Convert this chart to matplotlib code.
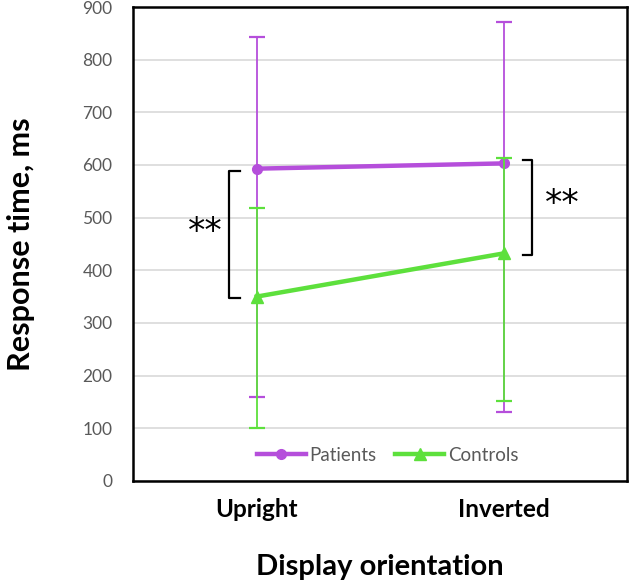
import numpy as np
import matplotlib.pyplot as plt
from matplotlib.lines import Line2D

plt.rcParams['font.family'] = ['Lato', 'DejaVu Sans']

## Data
categories = ['Upright', 'Inverted']
patients = [593, 603]
patients_hi = [843, 871]
patients_lo = [160, 130]
controls = [350, 432]
controls_hi = [519, 613]
controls_lo = [100, 152]

## significance brackets: (x, tick end, y bottom, y top), star position
brackets = [(-0.111, -0.067, 347, 589), (1.115, 1.079, 429, 609)]
star_pos = [(-0.21, 473), (1.24, 526)]

purple = '#B54EDB'
green = '#5DE03C'

fig = plt.figure(figsize=(6.32, 5.85), dpi=100)
ax = fig.add_axes([0.211, 0.178, 0.781, 0.81])

x = np.arange(len(categories))

def yerr(mean, lo, hi):
    mean = np.array(mean)
    return [mean - np.array(lo), np.array(hi) - mean]

ax.errorbar(x, patients, yerr=yerr(patients, patients_lo, patients_hi), color=purple,
            lw=3.2, marker='o', ms=7, elinewidth=1.3, capsize=6, capthick=1.6, zorder=3)
ax.errorbar(x, controls, yerr=yerr(controls, controls_lo, controls_hi), color=green,
            lw=3.2, marker='^', ms=8, elinewidth=1.3, capsize=6, capthick=1.6, zorder=4)

for bx, tx, y0, y1 in brackets:
    ax.plot([tx, bx, bx, tx], [y0, y0, y1, y1], color='black', lw=1.6, zorder=5)
for sx, sy in star_pos:
    ax.text(sx, sy, '**', ha='center', va='center', fontsize=25, family='DejaVu Sans')

ax.set_xlim(-0.5, 1.5)
ax.set_ylim(0, 900)
ax.set_yticks(np.arange(0, 901, 100))
ax.set_xticks(x)
ax.set_xticklabels(categories, fontsize=17.5, fontweight='bold')
ax.tick_params(axis='y', labelsize=12.5, labelcolor='#595959', length=0, pad=15)
ax.tick_params(axis='x', length=0, pad=12)
ax.yaxis.grid(True, color='#D9D9D9', lw=1.2)
ax.set_axisbelow(True)
for s in ax.spines.values():
    s.set_linewidth(1.8)
    s.set_color('black')

ax.set_ylabel('Response time, ms', fontsize=22, fontweight='bold', labelpad=34)
ax.set_xlabel('Display orientation', fontsize=21, fontweight='bold', labelpad=24)

handles = [Line2D([], [], color=purple, lw=3.2, marker='o', ms=7),
           Line2D([], [], color=green, lw=3.2, marker='^', ms=8)]
ax.legend(handles, ['Patients', 'Controls'], loc='lower center', bbox_to_anchor=(0.515, 0.0),
          ncol=2, frameon=False, fontsize=13.5, labelcolor='#595959', handlelength=2.6,
          handletextpad=0.2, columnspacing=1.0)

fig.savefig('out.png', dpi=100)
